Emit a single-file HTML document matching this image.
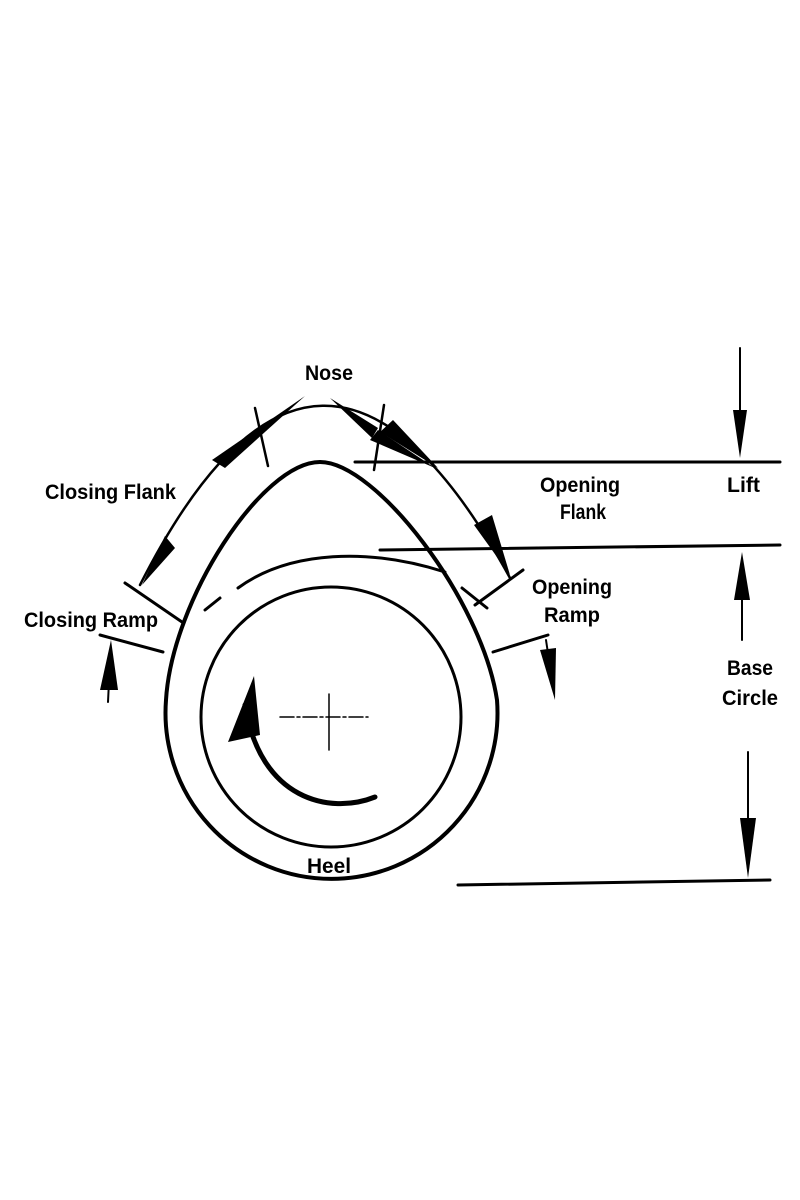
<!DOCTYPE html>
<html><head><style>html,body{margin:0;padding:0;background:#fff}svg{display:block}
text{font-family:"Liberation Sans Narrow","Liberation Sans",sans-serif;font-weight:bold;font-size:21px;fill:#000}</style></head>
<body>
<svg width="800" height="1200" viewBox="0 0 800 1200" xmlns="http://www.w3.org/2000/svg">
<g fill="none" stroke="#000" stroke-linecap="round">
<!-- cam outline -->
<path d="M166,700 C172,600 262,462 320,462 C376,462 482,600 497,700 A166 166 0 1 1 166,700" stroke-width="4"/>
<!-- inner circle -->
<circle cx="331" cy="717" r="130" stroke-width="3"/>
<!-- base circle dashed arc -->
<path d="M205,610 L220,598" stroke-width="3"/>
<path d="M238,588 C290,550 370,548 445,572" stroke-width="3"/>
<path d="M462,588 L487,608" stroke-width="3"/>
<!-- outer arrow arc -->
<path d="M140,585 Q320,230 510,578" stroke-width="2.5"/>
<!-- ticks -->
<path d="M255,408 L268,466" stroke-width="2.5"/>
<path d="M384,405 L374,470" stroke-width="2.5"/>
<path d="M125,583 L182,622" stroke-width="3"/>
<path d="M100,635 L163,652" stroke-width="3"/>
<path d="M475,605 L523,570" stroke-width="3"/>
<path d="M493,652 L548,635" stroke-width="3"/>
<!-- horizontal lines -->
<path d="M355,462 L780,462" stroke-width="3"/>
<path d="M380,550 L780,545" stroke-width="3"/>
<path d="M458,885 L770,880" stroke-width="3"/>
<!-- right dimension lines -->
<path d="M740,348 L740,440" stroke-width="2"/>
<path d="M742,575 L742,640" stroke-width="2"/>
<path d="M748,752 L748,830" stroke-width="2"/>
<!-- small ramp arrows -->
<path d="M110,660 L108,702" stroke-width="2"/>
<path d="M546,640 L552,680" stroke-width="2"/>
<!-- center mark -->
<path d="M280,717 L368,717" stroke-width="1.5" stroke-dasharray="14,3,3,3"/>
<path d="M329,694 L329,750" stroke-width="1.5"/>
<!-- rotation arrow -->
<path d="M375,797 C330,815 260,800 245,705" stroke-width="5"/>
</g>
<g fill="#000">
<!-- arc arrowheads -->
<polygon points="305,396 212,460 225,468"/>
<polygon points="330,398 378,428 372,438"/>
<polygon points="438,468 393,420 380,432"/>
<polygon points="435,468 378,430 370,440" />
<polygon points="142,585 165,536 175,548"/>
<polygon points="510,575 474,525 492,515"/>
<!-- dimension arrowheads -->
<polygon points="740,458 733,410 747,410"/>
<polygon points="742,552 734,600 750,600"/>
<polygon points="748,878 740,818 756,818"/>
<polygon points="111,640 100,690 118,690"/>
<polygon points="555,700 540,650 556,648"/>
<!-- rotation arrowhead -->
<polygon points="254,676 228,742 260,735"/>
</g>
<text x="305" y="380" textLength="48" lengthAdjust="spacingAndGlyphs">Nose</text>
<text x="45" y="499" textLength="131" lengthAdjust="spacingAndGlyphs">Closing Flank</text>
<text x="540" y="492" textLength="80" lengthAdjust="spacingAndGlyphs">Opening</text>
<text x="560" y="519" textLength="46" lengthAdjust="spacingAndGlyphs">Flank</text>
<text x="727" y="492" textLength="33" lengthAdjust="spacingAndGlyphs">Lift</text>
<text x="24" y="627" textLength="134" lengthAdjust="spacingAndGlyphs">Closing Ramp</text>
<text x="532" y="594" textLength="80" lengthAdjust="spacingAndGlyphs">Opening</text>
<text x="544" y="622" textLength="56" lengthAdjust="spacingAndGlyphs">Ramp</text>
<text x="727" y="675" textLength="46" lengthAdjust="spacingAndGlyphs">Base</text>
<text x="722" y="705" textLength="56" lengthAdjust="spacingAndGlyphs">Circle</text>
<text x="307" y="873" textLength="44" lengthAdjust="spacingAndGlyphs">Heel</text>
</svg>
</body></html>
